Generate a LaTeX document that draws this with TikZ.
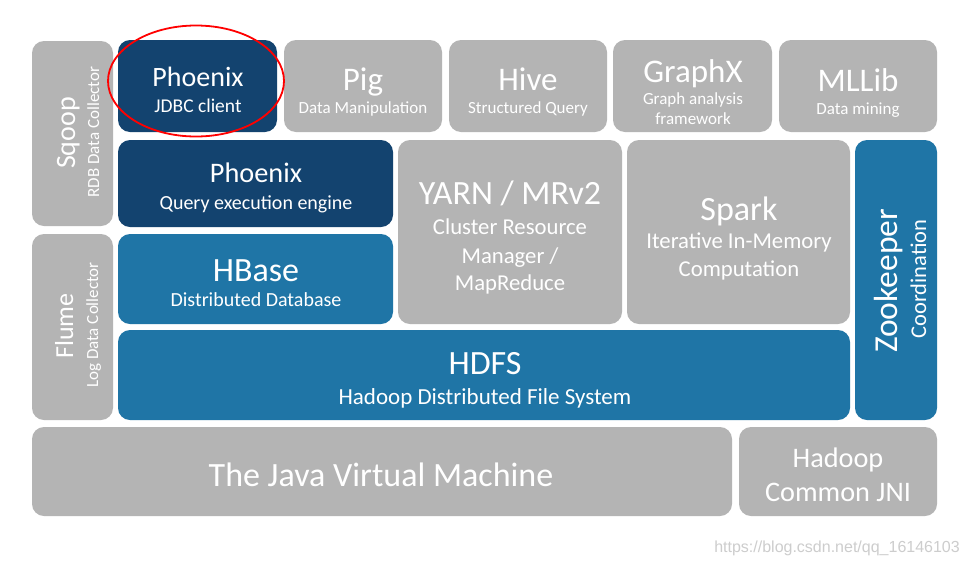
\documentclass[tikz,border=0pt]{standalone}
\usepackage{fontspec}
\usetikzlibrary{shapes.geometric}
\setmainfont{Carlito}
\newfontfamily\wmfont{Liberation Sans}
\definecolor{boxgrey}{RGB}{180,180,180}
\definecolor{darkblue}{RGB}{19,67,111}
\definecolor{midblue}{RGB}{31,117,166}
\definecolor{wmgrey}{RGB}{205,205,205}
\newcommand\fs[1]{\fontsize{#1}{#1}\selectfont}
\newcommand\blk[6]{\node[blockbox, fill=#6, minimum width={#4pt-#2pt}, minimum height={#5pt-#3pt}] (#1) at (#2,#3) {};}
\begin{document}
\begin{tikzpicture}[x=1pt,y=-1pt,
  blockbox/.style={rounded corners=12pt, inner sep=0pt, outer sep=0pt, anchor=north west, draw=none},
  txt/.style={text=white, inner sep=0pt, anchor=base},
  vtxt/.style={text=white, inner sep=0pt, anchor=base, rotate=90}]
\fill[white] (0,0) rectangle (970,563);
\useasboundingbox (0,0) rectangle (970,563);
% blocks
\blk{sqoop}{32}{41}{113}{226}{boxgrey}
\blk{flume}{32}{234}{113}{420}{boxgrey}
\blk{jdbc}{118}{40}{277}{132}{darkblue}
\blk{pig}{284}{40}{442}{132}{boxgrey}
\blk{hive}{449}{40}{607}{132}{boxgrey}
\blk{graphx}{613}{40}{772}{132}{boxgrey}
\blk{mllib}{779}{40}{937}{132}{boxgrey}
\blk{query}{118}{140}{393}{227}{darkblue}
\blk{hbase}{118}{234}{393}{324}{midblue}
\blk{yarn}{398}{140}{622}{324}{boxgrey}
\blk{spark}{627}{140}{850}{324}{boxgrey}
\blk{zoo}{855}{140}{937}{420}{midblue}
\blk{hdfs}{118}{330}{850}{420}{midblue}
\blk{jvm}{32}{427}{732}{516}{boxgrey}
\blk{jni}{739}{427}{937}{516}{boxgrey}
% texts
\node[txt, font=\fs{28}] (jdbcT) at (198,86) {Phoenix};
\node[txt, font=\fs{19.5}] (jdbcS) at (198,112) {JDBC client};
\node[txt, font=\fs{33}] (pigT) at (363,90) {Pig};
\node[txt, font=\fs{17}] (pigS) at (363,113) {Data Manipulation};
\node[txt, font=\fs{33}] (hiveT) at (528,90) {Hive};
\node[txt, font=\fs{17}] (hiveS) at (528,113) {Structured Query};
\node[txt, font=\fs{33}] (graphxT) at (693,82) {GraphX};
\node[txt, font=\fs{17}] (graphxS1) at (693,104) {Graph analysis};
\node[txt, font=\fs{17}] (graphxS2) at (693,124) {framework};
\node[txt, font=\fs{33}] (mllibT) at (858,91) {MLLib};
\node[txt, font=\fs{17}] (mllibS) at (858,114) {Data mining};
\node[txt, font=\fs{28.3}] (queryT) at (256,182) {Phoenix};
\node[txt, font=\fs{20}] (queryS) at (256,209) {Query execution engine};
\node[txt, font=\fs{34}] (hbaseT) at (256,281) {HBase};
\node[txt, font=\fs{20}] (hbaseS) at (256,306) {Distributed Database};
\node[txt, font=\fs{34}] (yarnT) at (510,204) {YARN / MRv2};
\node[txt, font=\fs{22.7}] (yarnS1) at (510,234) {Cluster Resource};
\node[txt, font=\fs{22.7}] (yarnS2) at (510,263) {Manager /};
\node[txt, font=\fs{22.7}] (yarnS3) at (510,290) {MapReduce};
\node[txt, font=\fs{34}] (sparkT) at (739,220) {Spark};
\node[txt, font=\fs{22.7}] (sparkS1) at (739,248) {Iterative In-Memory};
\node[txt, font=\fs{22.7}] (sparkS2) at (739,276) {Computation};
\node[txt, font=\fs{34}] (hdfsT) at (485,374) {HDFS};
\node[txt, font=\fs{23}] (hdfsS) at (485,404) {Hadoop Distributed File System};
\node[txt, font=\fs{34}] (jvmT) at (381,486) {The Java Virtual Machine};
\node[txt, font=\fs{28.3}] (jniT1) at (838,467) {Hadoop};
\node[txt, font=\fs{28.3}] (jniT2) at (838,501) {Common JNI};
\node[vtxt, font=\fs{28}] (sqoopT) at (75,133) {Sqoop};
\node[vtxt, font=\fs{17}] (sqoopS) at (99,132) {RDB Data Collector};
\node[vtxt, font=\fs{26}] (flumeT) at (73,326) {Flume};
\node[vtxt, font=\fs{17}] (flumeS) at (98,325) {Log Data Collector};
\node[vtxt, font=\fs{33.5}] (zooT) at (897,281) {Zookeeper};
\node[vtxt, font=\fs{22.5}] (zooS) at (926,279) {Coordination};
% highlight ellipse
\node[draw=red, line width=1.8pt, ellipse, minimum width=176pt, minimum height=111pt, inner sep=0pt] (mark) at (196,81) {};
% watermark
\node[text=wmgrey, font=\wmfont\fs{16}, anchor=base east, inner sep=0pt] (wm) at (960,552) {https://blog.csdn.net/qq\_16146103};
\end{tikzpicture}
\end{document}
